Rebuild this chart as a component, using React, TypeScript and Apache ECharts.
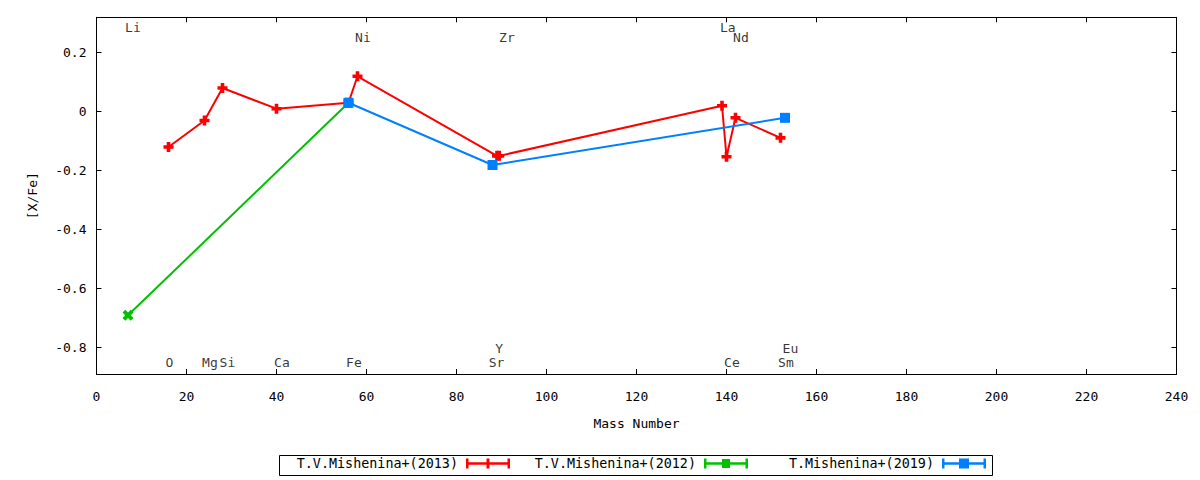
import React, { useEffect, useRef } from "react";
import * as echarts from "echarts";

const seriesNames = ["T.V.Mishenina+(2013)", "T.V.Mishenina+(2012)", "T.Mishenina+(2019)"];

const massRed = [16, 24, 28, 40, 56, 58, 89, 89.5, 139, 140, 142, 152];
const xfeRed = [-0.12, -0.03, 0.08, 0.01, 0.03, 0.12, -0.15, -0.15, 0.02, -0.153, -0.021, -0.089];

const massGreen = [7, 56];
const xfeGreen = [-0.691, 0.03];

const massBlue = [56, 88, 153];
const xfeBlue = [0.03, -0.181, -0.021];

const elementNames = ["Li", "Ni", "Zr", "La", "Nd", "O", "Mg", "Si", "Ca", "Fe", "Sr", "Y", "Ce", "Sm", "Eu"];
const elementLabelX = [8.1, 59.2, 91.2, 140.3, 143.2, 16.2, 25.2, 29.1, 41.2, 57.2, 88.9, 89.5, 141.2, 153.2, 154.2];
const elementLabelY = [0.286, 0.25, 0.25, 0.286, 0.25, -0.852, -0.852, -0.852, -0.852, -0.852, -0.852, -0.805, -0.852, -0.852, -0.805];

const xTicks = { min: 0, max: 240, interval: 20 };
const yRange = { min: -0.89, max: 0.32 };

const FONT = "DejaVu Sans Mono";
const RED = "#ff0000";
const GREEN = "#00c000";
const BLUE = "#0080ff";

const plusSymbol = "path://M3.2,0H6.8V3.2H10V6.8H6.8V10H3.2V6.8H0V3.2H3.2Z";
const xSymbol = "path://M0,2.5L2.5,0L5,2.5L7.5,0L10,2.5L7.5,5L10,7.5L7.5,10L5,7.5L2.5,10L0,7.5L2.5,5Z";

const iconRed = "path://M0,0H2.5V3.75H20.5V0H23.5V3.75H41.5V0H44V10H41.5V6.25H23.5V10H20.5V6.25H2.5V10H0Z";
const iconGreen = "path://M0,0H2.5V3.75H18V0.5H26V3.75H41.5V0H44V10H41.5V6.25H26V9.5H18V6.25H2.5V10H0Z";
const iconBlue = "path://M0,0H2.5V3.75H17V0H27V3.75H41.5V0H44V10H41.5V6.25H27V10H17V6.25H2.5V10H0Z";

const zip = (xs: number[], ys: number[]) => xs.map((x, i) => [x, ys[i]]);

function yLabel(v: number): string {
  const k = v * 5;
  if (Math.abs(k - Math.round(k)) > 1e-6) return "";
  if (Math.abs(v) < 1e-9) return "0";
  return v.toFixed(1);
}

function App() {
  const ref = useRef<HTMLDivElement>(null);
  useEffect(() => {
    if (!ref.current) return;
    const chart = echarts.init(ref.current, undefined, { renderer: "svg" });
    const textBase = { fontFamily: FONT, fontSize: 13, color: "#000" };
    const axisLine = { show: true, onZero: false, lineStyle: { color: "#000", width: 1 } };
    const axisTick = { show: true, inside: true, length: 5, lineStyle: { color: "#000", width: 1 } };
    const legendCommon = {
      orient: "horizontal" as const,
      top: 457,
      padding: 0,
      align: "right" as const,
      itemWidth: 44,
      itemHeight: 10,
      textStyle: { ...textBase, fontSize: 13.4, padding: [0, 3, 0, 0] },
      selectedMode: false,
      symbolKeepAspect: false,
    };
    chart.setOption({
      animation: false,
      backgroundColor: "#fff",
      textStyle: { fontFamily: FONT },
      grid: { left: 96.5, right: 23.5, top: 17.3, bottom: 106, containLabel: false },
      xAxis: [
        {
          type: "value",
          position: "bottom",
          min: xTicks.min,
          max: xTicks.max,
          interval: xTicks.interval,
          name: "Mass Number",
          nameLocation: "middle",
          nameGap: 43,
          nameTextStyle: textBase,
          axisLine,
          axisTick,
          axisLabel: { ...textBase, margin: 16 },
          splitLine: { show: false },
        },
        {
          type: "value",
          position: "top",
          min: xTicks.min,
          max: xTicks.max,
          interval: xTicks.interval,
          axisLine,
          axisTick,
          axisLabel: { show: false },
          splitLine: { show: false },
        },
      ],
      yAxis: [
        {
          type: "value",
          position: "left",
          min: yRange.min,
          max: yRange.max,
          splitNumber: 6,
          name: "[X/Fe]",
          nameLocation: "middle",
          nameGap: 58,
          nameRotate: 90,
          nameTextStyle: textBase,
          axisLine,
          axisTick,
          axisLabel: { ...textBase, margin: 10, formatter: yLabel, showMinLabel: false, showMaxLabel: false },
          splitLine: { show: false },
        },
        {
          type: "value",
          position: "right",
          min: yRange.min,
          max: yRange.max,
          splitNumber: 6,
          axisLine,
          axisTick,
          axisLabel: { show: false },
          splitLine: { show: false },
        },
      ],
      legend: [
        { ...legendCommon, right: 690, data: [{ name: seriesNames[0], icon: iconRed }] },
        { ...legendCommon, right: 452, data: [{ name: seriesNames[1], icon: iconGreen }] },
        { ...legendCommon, right: 214, data: [{ name: seriesNames[2], icon: iconBlue }] },
      ],
      graphic: [
        {
          type: "rect",
          shape: { x: 279.5, y: 455.5, width: 713, height: 20 },
          style: { fill: "none", stroke: "#000", lineWidth: 1 },
          silent: true,
        },
      ],
      series: [
        {
          name: seriesNames[0],
          type: "line",
          data: zip(massRed, xfeRed),
          symbol: plusSymbol,
          symbolSize: 10,
          showAllSymbol: true,
          color: RED,
          lineStyle: { color: RED, width: 2 },
          itemStyle: { color: RED },
          z: 2,
        },
        {
          name: seriesNames[1],
          type: "line",
          data: zip(massGreen, xfeGreen),
          symbol: xSymbol,
          symbolSize: 11,
          color: GREEN,
          lineStyle: { color: GREEN, width: 2 },
          itemStyle: { color: GREEN },
          z: 3,
        },
        {
          name: seriesNames[2],
          type: "line",
          data: zip(massBlue, xfeBlue),
          symbol: "rect",
          symbolSize: 10,
          color: BLUE,
          lineStyle: { color: BLUE, width: 2 },
          itemStyle: { color: BLUE },
          z: 4,
        },
        {
          name: "elements",
          type: "scatter",
          data: elementNames.map((n, i) => ({ name: n, value: [elementLabelX[i], elementLabelY[i]] })),
          symbolSize: 1,
          itemStyle: { color: "transparent" },
          silent: true,
          label: {
            show: true,
            position: "inside",
            formatter: (p: any) => p.name,
            ...textBase,
          },
          z: 5,
        },
      ],
    });
    return () => chart.dispose();
  }, []);
  return (
    <div
      ref={ref}
      style={{ position: "fixed", left: 0, top: 0, width: 1200, height: 480, background: "#fff" }}
    />
  );
}

export default App;
